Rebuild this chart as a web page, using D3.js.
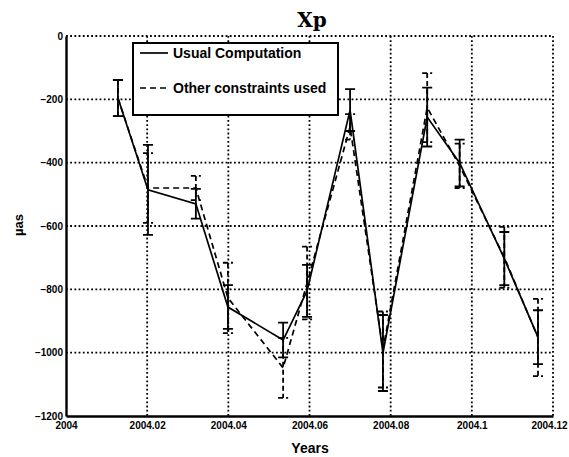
<!DOCTYPE html>
<html>
<head>
<meta charset="utf-8">
<script src="https://cdn.jsdelivr.net/npm/d3@7"></script>
<style>
  body { margin: 0; background: #fff; }
  text { font-family: "Liberation Sans", Arial, sans-serif; fill: #000; }
</style>
</head>
<body>
<div id="chart"></div>
<script>
// sample dates (fraction of year) and the two solutions, in µas
const years = [2004.0128, 2004.0202, 2004.032, 2004.0399, 2004.0535, 2004.0594,
  2004.070, 2004.0781, 2004.089, 2004.097, 2004.108, 2004.1163];
const usual = [-196, -486, -530, -856, -960, -805, -234, -1001, -256, -401, -703, -951];
const usualErr = [57, 142, 47, 69, 55, 82, 66, 120, 93, 74, 84, 85];
const other = [-196, -480, -480, -827, -1048, -780, -287, -990, -226, -410, -699, -952];
const otherErr = [57, 110, 38, 111, 95, 115, 40, 120, 109, 70, 96, 122];

const xTicks = [2004, 2004.02, 2004.04, 2004.06, 2004.08, 2004.10, 2004.12];
const xTickLabels = ['2004', '2004.02', '2004.04', '2004.06', '2004.08', '2004.1', '2004.12'];
const yTicks = [0, -200, -400, -600, -800, -1000, -1200];

const plotL = 66, plotR = 553, plotT = 36, plotB = 416;

const svg = d3.select('#chart')
  .append('svg')
  .attr('width', 569)
  .attr('height', 457);

const x = d3.scaleLinear().domain([2004, 2004.12]).range([plotL, plotR]);
const y = d3.scaleLinear().domain([-1200, 0]).range([plotB, plotT]);

// dotted grid
svg.selectAll('.vgrid')
  .data(xTicks.slice(1))
  .enter().append('line')
    .attr('x1', d => x(d)).attr('x2', d => x(d))
    .attr('y1', plotT).attr('y2', plotB)
    .attr('stroke', '#000')
    .attr('stroke-width', 1.8)
    .attr('stroke-dasharray', '1.8,2.4');

svg.selectAll('.hgrid')
  .data(yTicks.slice(0, -1))
  .enter().append('line')
    .attr('x1', plotL).attr('x2', plotR)
    .attr('y1', d => y(d)).attr('y2', d => y(d))
    .attr('stroke', '#000')
    .attr('stroke-width', 1.8)
    .attr('stroke-dasharray', '1.8,2.4');

// axes
const yAxis = svg.append('g')
  .attr('transform', `translate(${plotL},0)`)
  .call(d3.axisLeft(y).tickValues(yTicks).tickSize(0).tickPadding(3)
    .tickFormat(d3.format('d')));
const xAxis = svg.append('g')
  .attr('transform', `translate(0,${plotB})`)
  .call(d3.axisBottom(x).tickValues(xTicks).tickSize(0).tickPadding(6)
    .tickFormat((d, i) => xTickLabels[i]));

[yAxis, xAxis].forEach(g => {
  g.select('.domain').attr('stroke', '#000').attr('stroke-width', 2.4);
  g.selectAll('text')
    .style('font-family', '"Liberation Sans", Arial, sans-serif')
    .style('font-size', '10px')
    .style('font-weight', 'bold')
    .attr('fill', '#000');
});
// keep the last date label inside the page
xAxis.selectAll('text').filter((d, i) => i === xTicks.length - 1).attr('dx', '-4');

// error bars + lines (error bars take the series' line style)
function drawSeries(vals, errs, dash) {
  const pts = years.map((t, i) => ({ t, v: vals[i], e: errs[i] }));
  const g = svg.append('g');

  g.selectAll('.bar')
    .data(pts)
    .enter().append('path')
      .attr('d', d => {
        const cx = x(d.t);
        const y1 = y(d.v + d.e), y2 = y(d.v - d.e);
        return `M${cx},${y1}V${y2}M${cx - 5},${y1}H${cx + 5}M${cx - 5},${y2}H${cx + 5}`;
      })
      .attr('fill', 'none')
      .attr('stroke', '#000')
      .attr('stroke-width', 1.8)
      .attr('stroke-dasharray', dash ? '5,3' : null);

  g.append('path')
    .datum(pts)
    .attr('d', d3.line().x(d => x(d.t)).y(d => y(d.v)))
    .attr('fill', 'none')
    .attr('stroke', '#000')
    .attr('stroke-width', 1.7)
    .attr('stroke-dasharray', dash);
}

drawSeries(usual, usualErr, null);
drawSeries(other, otherErr, '6,4');

// legend
const legend = svg.append('g');
legend.append('rect')
  .attr('x', 133).attr('y', 43)
  .attr('width', 205).attr('height', 72)
  .attr('fill', '#fff')
  .attr('stroke', '#000')
  .attr('stroke-width', 2);

const legendItems = [
  { label: 'Usual Computation', dash: null, y: 53 },
  { label: 'Other constraints used', dash: '6,4', y: 88 }
];
legendItems.forEach(it => {
  legend.append('line')
    .attr('x1', 140).attr('x2', 168)
    .attr('y1', it.y).attr('y2', it.y)
    .attr('stroke', '#000')
    .attr('stroke-width', 1.7)
    .attr('stroke-dasharray', it.dash);
  legend.append('text')
    .attr('x', 173).attr('y', it.y + 5)
    .style('font-size', '14px')
    .style('font-weight', 'bold')
    .text(it.label);
});

// title and axis labels
svg.append('text')
  .attr('x', 312).attr('y', 27)
  .attr('text-anchor', 'middle')
  .style('font-family', '"DejaVu Serif", serif')
  .style('font-size', '20px')
  .style('font-weight', 'bold')
  .text('Xp');

svg.append('text')
  .attr('x', 310).attr('y', 453)
  .attr('text-anchor', 'middle')
  .style('font-size', '14px')
  .style('font-weight', 'bold')
  .text('Years');

svg.append('text')
  .attr('transform', 'translate(23,225) rotate(-90)')
  .attr('text-anchor', 'middle')
  .style('font-size', '13px')
  .style('font-weight', 'bold')
  .text('µas');
</script>
</body>
</html>
